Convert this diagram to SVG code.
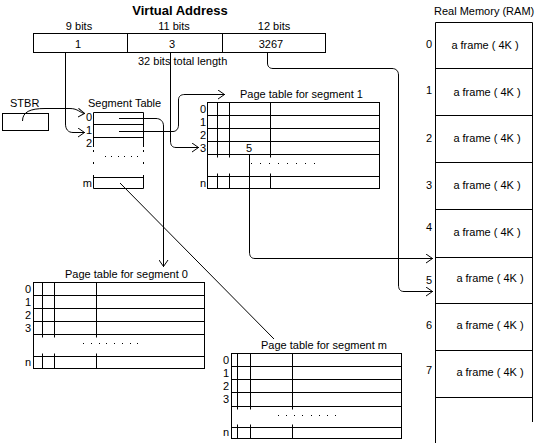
<svg xmlns="http://www.w3.org/2000/svg" width="540" height="445" viewBox="0 0 540 445">
<style>
.t{font-family:"Liberation Sans",Arial,sans-serif;font-size:11px;fill:#000}
.e{text-anchor:end}
.m{text-anchor:middle}
.b{font-weight:bold;font-size:13px}
.ln{fill:none;stroke:#000;stroke-width:1}
.d{fill:#000}
</style>
<defs>
<marker id="ah" viewBox="0 0 7 10" refX="7" refY="5" markerWidth="7" markerHeight="10" markerUnits="userSpaceOnUse" orient="auto">
<path d="M0,0.5 L6.5,5 L0,9.5" fill="none" stroke="#000" stroke-width="1"/>
</marker>
</defs>
<rect width="540" height="445" fill="#fff"/>

<g id="virtual-address">
<text class="t b m" x="180" y="15">Virtual Address</text>
<text class="t m" x="79" y="30">9 bits</text>
<text class="t m" x="174" y="30">11 bits</text>
<text class="t m" x="274" y="30">12 bits</text>
<rect class="ln" x="33.5" y="33.5" width="292" height="19"/>
<line class="ln" x1="127.5" y1="33.5" x2="127.5" y2="52.5"/>
<line class="ln" x1="222.5" y1="33.5" x2="222.5" y2="52.5"/>
<text class="t m" x="78" y="48">1</text>
<text class="t m" x="172" y="48">3</text>
<text class="t m" x="271" y="48">3267</text>
<text class="t" x="138" y="65">32 bits total length</text>
</g>

<g id="stbr">
<rect class="ln" x="2.5" y="113.5" width="46" height="17"/>
<text class="t" x="10" y="107">STBR</text>
</g>

<g id="segment-table">
<text class="t" x="88" y="107">Segment Table</text>
<path class="ln" d="M93.5,147 V112.5 H143.5 V147 M93.5,175 V188.5 H143.5 V175 M93.5,150 V152 M93.5,162 V164 M143.5,150 V152 M143.5,162 V164 M93.5,124.5 H143.5 M93.5,137.5 H143.5 M93.5,177.5 H143.5"/>
<rect class="d" x="105" y="156" width="1" height="1"/>
<rect class="d" x="111" y="156" width="1" height="1"/>
<rect class="d" x="118" y="156" width="1" height="1"/>
<rect class="d" x="124" y="156" width="1" height="1"/>
<rect class="d" x="131" y="156" width="1" height="1"/>
<rect class="d" x="137" y="156" width="1" height="1"/>
<text class="t e" x="92" y="121">0</text>
<text class="t e" x="92" y="134">1</text>
<text class="t e" x="92" y="147">2</text>
<text class="t e" x="92" y="187">m</text>
</g>

<g id="page-table-1">
<text class="t" x="240" y="98">Page table for segment 1</text>
<rect class="ln" x="207.5" y="102.5" width="172" height="86"/>
<path class="ln" d="M207.5,115.5 H379.5 M207.5,128.5 H379.5 M207.5,141.5 H379.5 M207.5,154.5 H379.5 M207.5,176.5 H379.5 M217.5,102.5 V157.5 M229.5,102.5 V157.5 M270.5,102.5 V157.5 M217.5,173.5 V188.5 M229.5,173.5 V188.5 M270.5,173.5 V188.5"/>
<text class="t e" x="206" y="113">0</text>
<text class="t e" x="206" y="126">1</text>
<text class="t e" x="206" y="139">2</text>
<text class="t e" x="206" y="152">3</text>
<text class="t e" x="206" y="187">n</text>
<text class="t m" x="249" y="152">5</text>
<g class="d">
<rect x="251" y="163" width="1" height="1"/><rect x="260" y="163" width="1" height="1"/><rect x="269" y="163" width="1" height="1"/><rect x="278" y="163" width="1" height="1"/><rect x="287" y="163" width="1" height="1"/><rect x="296" y="163" width="1" height="1"/><rect x="305" y="163" width="1" height="1"/><rect x="314" y="163" width="1" height="1"/>
</g>
</g>

<g id="page-table-0">
<text class="t" x="65" y="278">Page table for segment 0</text>
<rect class="ln" x="33.5" y="282.5" width="171" height="86"/>
<path class="ln" d="M33.5,295.5 H204.5 M33.5,308.5 H204.5 M33.5,321.5 H204.5 M33.5,334.5 H204.5 M33.5,356.5 H204.5 M42.5,282.5 V337.5 M54.5,282.5 V337.5 M96.5,282.5 V337.5 M42.5,353.5 V368.5 M54.5,353.5 V368.5 M96.5,353.5 V368.5"/>
<text class="t e" x="31" y="293">0</text>
<text class="t e" x="31" y="306">1</text>
<text class="t e" x="31" y="319">2</text>
<text class="t e" x="31" y="332">3</text>
<text class="t e" x="31" y="366">n</text>
<g class="d">
<rect x="83" y="343" width="1" height="1"/><rect x="91" y="343" width="1" height="1"/><rect x="99" y="343" width="1" height="1"/><rect x="106" y="343" width="1" height="1"/><rect x="114" y="343" width="1" height="1"/><rect x="122" y="343" width="1" height="1"/><rect x="130" y="343" width="1" height="1"/><rect x="137" y="343" width="1" height="1"/>
</g>
</g>

<g id="page-table-m">
<text class="t" x="261" y="349">Page table for segment m</text>
<rect class="ln" x="231.5" y="353.5" width="170" height="85"/>
<path class="ln" d="M231.5,366.5 H401.5 M231.5,379.5 H401.5 M231.5,392.5 H401.5 M231.5,406.5 H401.5 M231.5,427.5 H401.5 M237.5,353.5 V409.5 M250.5,353.5 V409.5 M292.5,353.5 V409.5 M237.5,424.5 V438.5 M250.5,424.5 V438.5 M292.5,424.5 V438.5"/>
<text class="t e" x="229" y="364">0</text>
<text class="t e" x="229" y="377">1</text>
<text class="t e" x="229" y="390">2</text>
<text class="t e" x="229" y="403">3</text>
<text class="t e" x="229" y="436">n</text>
<g class="d">
<rect x="278" y="415" width="1" height="1"/><rect x="286" y="415" width="1" height="1"/><rect x="294" y="415" width="1" height="1"/><rect x="302" y="415" width="1" height="1"/><rect x="311" y="415" width="1" height="1"/><rect x="319" y="415" width="1" height="1"/><rect x="327" y="415" width="1" height="1"/><rect x="335" y="415" width="1" height="1"/>
</g>
</g>

<g id="real-memory">
<text class="t" x="434" y="15">Real Memory (RAM)</text>
<path class="ln" d="M435.5,22.5 V443 M532.5,22.5 V422 M435.5,22.5 H532.5 M435.5,68.5 H532.5 M435.5,115.5 H532.5 M435.5,162.5 H532.5 M435.5,209.5 H532.5 M435.5,257.5 H532.5 M435.5,303.5 H532.5 M435.5,350.5 H532.5 M435.5,397.5 H532.5"/>
<text class="t e" x="432" y="48">0</text>
<text class="t e" x="432" y="94">1</text>
<text class="t e" x="432" y="142">2</text>
<text class="t e" x="432" y="189">3</text>
<text class="t e" x="432" y="231">4</text>
<text class="t e" x="432" y="284">5</text>
<text class="t e" x="432" y="329">6</text>
<text class="t e" x="432" y="374">7</text>
<text class="t m" x="485" y="49">a frame ( 4K )</text>
<text class="t m" x="487" y="96">a frame ( 4K )</text>
<text class="t m" x="487" y="142">a frame ( 4K )</text>
<text class="t m" x="487" y="189">a frame ( 4K )</text>
<text class="t m" x="487" y="236">a frame ( 4K )</text>
<text class="t m" x="490" y="282">a frame ( 4K )</text>
<text class="t m" x="490" y="329">a frame ( 4K )</text>
<text class="t m" x="490" y="376">a frame ( 4K )</text>
</g>

<g id="connectors">
<path class="ln" marker-end="url(#ah)" d="M22.5,121 C22.5,112 30,108.5 45,108.5 H70 C78,108.5 80,113 85,113.5"/>
<path class="ln" marker-end="url(#ah)" d="M65.5,52.5 V124 C65.5,129 68,132.5 73,132.5 H85"/>
<path class="ln" marker-end="url(#ah)" d="M170.5,52.5 V141 C170.5,145 172,147.5 176,147.5 H199"/>
<path class="ln" marker-end="url(#ah)" d="M119,118.5 H156 C160,118.5 163.5,121 163.5,126 V267"/>
<path class="ln" marker-end="url(#ah)" d="M119,131.5 H173 C176,131.5 178.5,129 178.5,125 V100 C178.5,96 181,94.5 185,94.5 H225"/>
<path class="ln" d="M120,183 L274,339"/>
<path class="ln" marker-end="url(#ah)" d="M249.5,154.5 V252 C249.5,256 251,258.5 255,258.5 H433"/>
<path class="ln" marker-end="url(#ah)" d="M267.5,52.5 V63 C267.5,66 269,68.5 273,68.5 H392 C396,68.5 398.5,71 398.5,75 V285 C398.5,289 400,291.5 404,291.5 H433"/>
</g>
</svg>
